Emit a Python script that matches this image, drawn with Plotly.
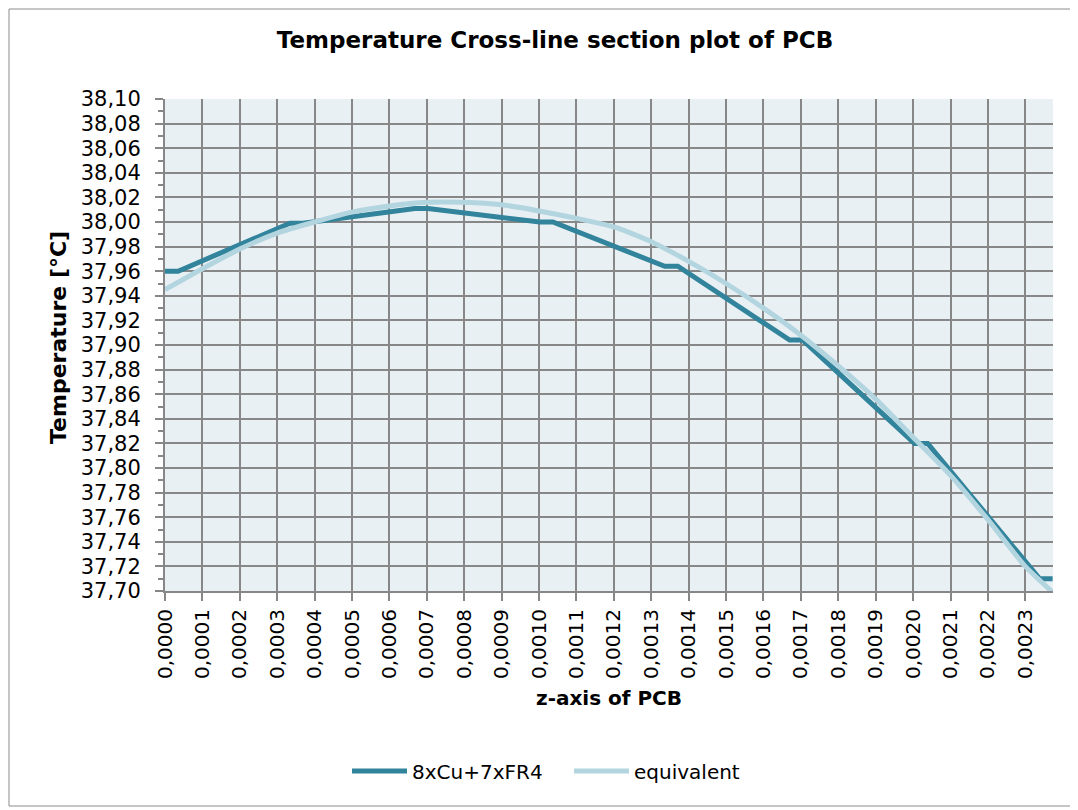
import plotly.graph_objects as go

# 8xCu+7xFR4 layered model (z in m, temperature in °C)
z_layered = [0.0, 0.000035, 0.000334, 0.000369, 0.000668, 0.000703, 0.001002, 0.001037,
             0.001336, 0.001371, 0.001670, 0.001705, 0.002004, 0.002039, 0.002338, 0.002373]
t_layered = [37.960, 37.960, 37.999, 37.999, 38.011, 38.011, 38.000, 38.000,
             37.964, 37.964, 37.904, 37.904, 37.820, 37.820, 37.710, 37.710]

# equivalent model
z_equiv = [0.0, 0.0001, 0.0002, 0.0003, 0.0004, 0.0005, 0.0006, 0.0007, 0.0008, 0.0009,
           0.0010, 0.0011, 0.0012, 0.0013, 0.0014, 0.0015, 0.0016, 0.0017, 0.0018, 0.0019,
           0.0020, 0.0021, 0.0022, 0.0023, 0.002373]
t_equiv = [37.945, 37.962, 37.978, 37.991, 38.000, 38.008, 38.013, 38.016, 38.016, 38.014,
           38.009, 38.003, 37.996, 37.984, 37.968, 37.950, 37.930, 37.908, 37.883, 37.856,
           37.825, 37.794, 37.758, 37.720, 37.699]

names = ["8xCu+7xFR4", "equivalent"]
title_text = "Temperature Cross-line section plot of PCB"
x_title = "z-axis of PCB"
y_title = "Temperature [°C]"

FONT = "DejaVu Sans"
GRID = "#878787"

# page body has an 8px offset; plot area should sit at page (165..1053, 99..591)
L, T, W, H = 157, 91, 888, 492

fig = go.Figure()
fig.add_trace(go.Scatter(x=z_layered, y=t_layered, mode="lines", name=names[0],
                         line=dict(color="#31849B", width=5), cliponaxis=False))
fig.add_trace(go.Scatter(x=z_equiv, y=t_equiv, mode="lines", name=names[1],
                         line=dict(color="#B3D5E0", width=5, shape="spline", smoothing=0.6),
                         cliponaxis=False))

fig.update_layout(
    width=1078, height=810,
    margin=dict(l=L, r=1078 - L - W, t=T, b=810 - T - H, autoexpand=False),
    paper_bgcolor="white",
    plot_bgcolor="#E9F0F4",
    separators=",.",
    font=dict(family=FONT, size=20, color="black"),
    title=dict(text="<b>" + title_text + "</b>", x=547 / 1078, xref="container", xanchor="center",
               y=1 - 32 / 810, yref="container", yanchor="middle",
               font=dict(family=FONT, size=23, color="black")),
    showlegend=True,
    legend=dict(orientation="h", x=(347 - 8 - L) / W, xanchor="left", y=-0.366, yanchor="middle",
                font=dict(family=FONT, size=20), itemwidth=55, entrywidth=152,
                bgcolor="rgba(0,0,0,0)"),
    xaxis=dict(range=[0, 0.002374], dtick=0.0001, tick0=0, tickformat=".4f",
               tickangle=-90, showgrid=True, gridcolor=GRID, gridwidth=2,
               ticks="outside", ticklen=8, tickcolor=GRID, tickwidth=2,
               showline=True, linecolor=GRID, linewidth=2, zeroline=False,
               tickfont=dict(family=FONT, size=20)),
    yaxis=dict(range=[37.70, 38.10], dtick=0.02, tick0=37.70, tickformat=".2f",
               showgrid=True, gridcolor=GRID, gridwidth=2,
               ticks="outside", ticklen=8, tickcolor=GRID, tickwidth=2,
               ticklabelstandoff=10,
               minor=dict(dtick=0.01, ticks="outside", ticklen=5, tickcolor=GRID,
                          tickwidth=2, showgrid=False),
               showline=True, linecolor=GRID, linewidth=2, zeroline=False,
               tickfont=dict(family=FONT, size=21)),
)

fig.add_annotation(text="<b>" + x_title + "</b>", xref="paper", yref="paper",
                   x=(609 - 165) / W, y=(591 - 698) / H, showarrow=False,
                   xanchor="center", yanchor="middle", font=dict(family=FONT, size=20))
fig.add_annotation(text="<b>" + y_title + "</b>", xref="paper", yref="paper",
                   x=(58 - 165) / W, y=(591 - 338) / H, showarrow=False, textangle=-90,
                   xanchor="center", yanchor="middle", font=dict(family=FONT, size=22))

# chart frame (figure coordinates converted to paper)
fig.add_shape(type="rect", xref="paper", yref="paper",
              x0=(1 - L) / W, x1=(1067 - L) / W,
              y0=(T + H - 798) / H, y1=(T + H - 1) / H,
              line=dict(color="#8C8C8C", width=1), fillcolor="rgba(0,0,0,0)", layer="below")

fig.write_html("out.html")
